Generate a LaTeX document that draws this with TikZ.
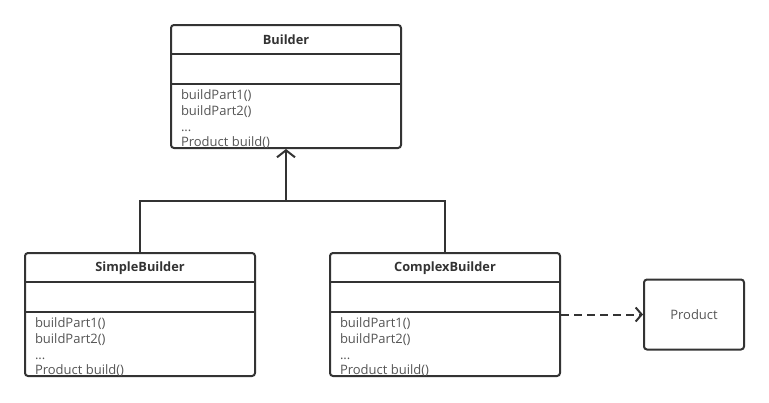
\documentclass[tikz,border=0pt]{standalone}
\usepackage{fontspec}
\setmainfont{Open Sans}
\usetikzlibrary{arrows.meta,positioning}
\definecolor{umlgray}{HTML}{333333}
\definecolor{textgray}{HTML}{555555}

\begin{document}
\begin{tikzpicture}[x=1pt,y=1pt,node distance=228pt and 146pt,on grid,
line width=2pt,draw=umlgray,text=umlgray,
cls/.style={draw,rounded corners=3pt,minimum width=230pt,minimum height=123pt,inner sep=0pt},
box/.style={draw,rounded corners=3pt,minimum width=100pt,minimum height=70pt,text=textgray,font=\fontsize{13}{15}\selectfont},
title/.style={font=\bfseries\fontsize{12.8}{15}\selectfont},
methods/.style={anchor=north west,inner sep=0pt,align=left,text=textgray,font=\fontsize{13}{15.7}\selectfont},
inherit/.style={-{Straight Barb[length=7pt,width=18pt,line width=2pt]}},
uses/.style={dashed,dash pattern=on 8pt off 5pt,-{Straight Barb[length=6pt,width=14pt,line width=2pt]}}]
\useasboundingbox (0,0) rectangle (769,-402);
\node[cls] (builder) at (286,-86.5) {};
\node[cls, below left=228pt and 146pt of builder] (simple) {};
\node[cls, below right=228pt and 159pt of builder] (complex) {};
\node[box, right=249pt of complex] (product) {Product};
% class compartments
\foreach \c/\t in {builder/Builder,simple/SimpleBuilder,complex/ComplexBuilder}{
  \node[title] at ([yshift=-16pt]\c.north) {\t};
  \draw ([yshift=-30pt]\c.north west) -- ([yshift=-30pt]\c.north east);
  \draw ([yshift=-60pt]\c.north west) -- ([yshift=-60pt]\c.north east);
  \node[methods] at ([xshift=10pt,yshift=-65pt]\c.north west)
    {buildPart1()\\buildPart2()\\...\\Product build()};
}
\coordinate[below=52pt of builder.south] (junc);
\draw (simple.north) |- (junc) -| (complex.north);
\draw[inherit] (junc) -- (builder.south);
\draw[uses] (complex.east) -- (product.west);
\end{tikzpicture}
\end{document}
